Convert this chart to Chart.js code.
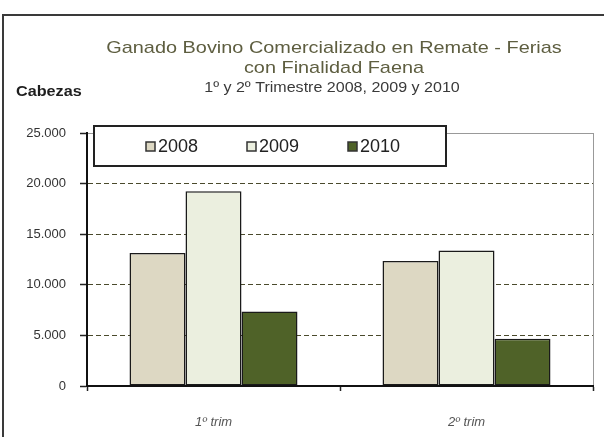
<!DOCTYPE html>
<html>
<head>
<meta charset="utf-8">
<script src="https://cdn.jsdelivr.net/npm/chart.js@4/dist/chart.umd.min.js"></script>
<style>
  html, body { margin: 0; padding: 0; background: #fff; }
  #wrap { width: 604px; height: 437px; }
</style>
</head>
<body>
<div id="wrap"><canvas id="c" width="604" height="437"></canvas></div>
<script>
const categories = ['1º trim', '2º trim'];
const years = ['2008', '2009', '2010'];
const values2008 = [13150, 12350];
const values2009 = [19250, 13400];
const values2010 = [7350, 4680];
const yTicks = [0, 5000, 10000, 15000, 20000, 25000];

const titleLines = ['Ganado Bovino Comercializado en Remate - Ferias', 'con Finalidad Faena'];
const subtitle = '1º y 2º Trimestre 2008, 2009 y 2010';
const yTitle = 'Cabezas';

const FONT = '"Liberation Sans", Arial, sans-serif';

// the source picture is a bit wider than it is tall, so text gets stretched sideways
function stretchText(ctx, text, x, y, sx) {
    ctx.save();
    ctx.translate(x, y);
    ctx.scale(sx, 1);
    ctx.fillText(text, 0, 0);
    ctx.restore();
}

// frame, plot-area box, titles
const framePlugin = {
    id: 'frame',
    beforeDraw(chart) {
        const { ctx, chartArea } = chart;
        ctx.save();
        ctx.fillStyle = '#fff';
        ctx.fillRect(0, 0, chart.width, chart.height);
        ctx.strokeStyle = '#3a3a3a';
        ctx.lineWidth = 2;
        ctx.strokeRect(3, 15, 700, 500);
        ctx.strokeStyle = '#999';
        ctx.lineWidth = 1;
        ctx.strokeRect(chartArea.left + 0.5, chartArea.top + 0.5,
            chartArea.right - chartArea.left, chartArea.bottom - chartArea.top);
        ctx.restore();
    },
    afterDraw(chart) {
        const { ctx } = chart;
        ctx.save();
        ctx.textAlign = 'center';
        ctx.textBaseline = 'alphabetic';
        ctx.fillStyle = '#5e5e40';
        ctx.font = '17px ' + FONT;
        stretchText(ctx, titleLines[0], 334, 53, 1.17);
        stretchText(ctx, titleLines[1], 334, 73, 1.17);
        ctx.fillStyle = '#3a3a3a';
        ctx.font = '15px ' + FONT;
        stretchText(ctx, subtitle, 332, 92, 1.07);
        ctx.textAlign = 'left';
        ctx.fillStyle = '#1e1e1e';
        ctx.font = 'bold 15px ' + FONT;
        stretchText(ctx, yTitle, 16, 96, 1.08);
        ctx.restore();
    }
};

// boxed legend sitting on top of the plot area
const boxLegendPlugin = {
    id: 'boxLegend',
    afterDraw(chart) {
        const { ctx, data } = chart;
        ctx.save();
        ctx.fillStyle = '#fff';
        ctx.fillRect(94, 126, 352, 40);
        ctx.strokeStyle = '#222';
        ctx.lineWidth = 2;
        ctx.strokeRect(94, 126, 352, 40);
        ctx.font = '18px ' + FONT;
        ctx.textBaseline = 'middle';
        ctx.textAlign = 'left';
        data.datasets.forEach((ds, i) => {
            const x = 146 + i * 101;
            ctx.fillStyle = ds.backgroundColor;
            ctx.fillRect(x, 142, 9, 9);
            ctx.strokeStyle = '#333';
            ctx.lineWidth = 1.5;
            ctx.strokeRect(x, 142, 9, 9);
            ctx.fillStyle = '#222';
            ctx.fillText(ds.label, x + 12, 147);
        });
        ctx.restore();
    }
};

const colors = ['#ddd8c3', '#ebefdf', '#4f6228'];

new Chart(document.getElementById('c'), {
    type: 'bar',
    data: {
        labels: categories,
        datasets: [values2008, values2009, values2010].map((vals, i) => ({
            label: years[i],
            data: vals,
            backgroundColor: colors[i],
            borderColor: '#1a1a1a',
            borderWidth: 1.5,
            borderSkipped: false,
            categoryPercentage: 0.664,
            barPercentage: 1
        }))
    },
    options: {
        responsive: false,
        animation: false,
        layout: { padding: { top: 133, right: 11, left: 0, bottom: 0 } },
        scales: {
            x: {
                grid: {
                    offset: true,
                    drawOnChartArea: false,
                    drawTicks: true,
                    tickLength: 5,
                    tickColor: '#222',
                    tickWidth: 1.5
                },
                border: { display: true, color: '#111', width: 2 },
                ticks: {
                    padding: 24,
                    color: '#555',
                    font: { family: FONT, size: 13, style: 'italic' }
                },
                afterFit(scale) { scale.height = 51; }
            },
            y: {
                min: 0,
                max: 25000,
                afterBuildTicks(scale) { scale.ticks = yTicks.map(v => ({ value: v })); },
                grid: {
                    color: c => (c.tick && (c.tick.value === 0 || c.tick.value === 25000)) ? 'rgba(0,0,0,0)' : '#4a4a2c',
                    lineWidth: 1,
                    tickLength: 7,
                    tickColor: '#222',
                    tickWidth: 1.5,
                    tickBorderDash: []
                },
                border: { display: true, color: '#111', width: 2, dash: [5, 3] },
                ticks: {
                    padding: 14,
                    color: '#333',
                    font: { family: FONT, size: 13 },
                    callback: v => v.toLocaleString('de-DE')
                },
                afterFit(scale) { scale.width = 87; }
            }
        },
        plugins: {
            legend: { display: false },
            tooltip: { enabled: false }
        }
    },
    plugins: [framePlugin, boxLegendPlugin]
});
</script>
</body>
</html>
